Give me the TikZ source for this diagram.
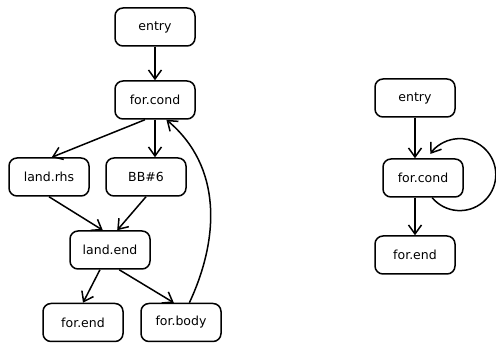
\documentclass[tikz,border=0pt]{standalone}
\usepackage{fontspec}
\setmainfont{DejaVu Sans}
\usetikzlibrary{arrows.meta}
\begin{document}
\begin{tikzpicture}[x=1pt,y=1pt,>={Straight Barb[length=9pt,width=13pt]},line width=1.5pt,
	block/.style={draw,rectangle,rounded corners=8pt,minimum width=80pt,minimum height=38pt,font=\fontsize{12.5}{14}\selectfont}]

	\useasboundingbox (0,0) rectangle (496,343);

	% bal oldali graf
	\node[block] (entry) at (155,316) {entry};
	\node[block] (cond) at (155,243) {for.cond};
	\node[block] (rhs) at (49,166) {land.rhs};
	\node[block] (bb) at (146,166) {BB\#6};
	\node[block] (lend) at (110,93) {land.end};
	\node[block] (fend) at (83,20.5) {for.end};
	\node[block] (body) at (181,20.5) {for.body};

	% jobb oldali graf
	\node[block] (entryR) at (415,245) {entry};
	\node[block] (condR) at (423,165) {for.cond};
	\node[block] (fendR) at (415,88) {for.end};

	% elek
	\draw [->] (entry.south) -- (cond.north);
	\draw [->] (cond.-117) -- (rhs.82);
	\draw [->] (cond.south) -- (bb.north -| cond.south);
	\draw [->] (rhs.south) -- (lend.110);
	\draw [->] (bb.south) -- (lend.70);
	\draw [->] (lend.-117) -- (fend.north);
	\draw [->] (lend.-65) -- (body.110);
	\draw [->] (body.67) to[out=65,in=-40] (cond.-60);

	\draw [->] (entryR.south) -- (condR.north -| entryR.south);
	\draw [->] (condR.south -| fendR.north) -- (fendR.north);
	% hurok
	\draw [->] (condR.-65) arc[start angle=-140,end angle=145,radius=36];

\end{tikzpicture}
\end{document}
